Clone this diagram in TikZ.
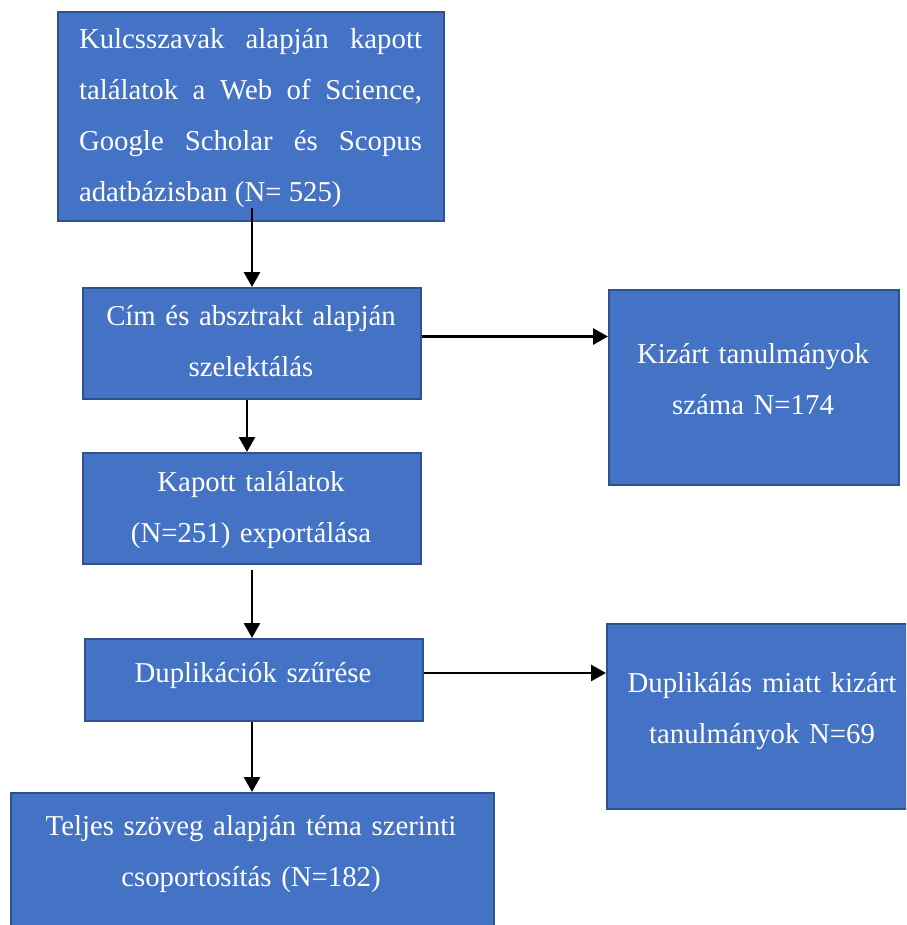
\documentclass[tikz,border=0pt]{standalone}
\usepackage{fontspec}
\setmainfont{Liberation Serif}
\usetikzlibrary{arrows.meta}
\definecolor{boxfill}{HTML}{4472C4}
\definecolor{boxedge}{HTML}{2F528F}
\tikzset{
  box/.style={draw=boxedge, line width=2pt, fill=boxfill, rectangle, inner sep=0pt, anchor=north west},
  txt/.style={text=white, inner sep=0pt, anchor=base, align=center,
    font=\fontsize{28.8}{51}\selectfont},
  arr/.style={draw=black, line width=2.8pt, -{Triangle[length=15pt,width=16pt]}},
}
\begin{document}
\begin{tikzpicture}[x=1pt,y=-1pt]
\useasboundingbox (0,0) rectangle (906,925);
\clip (0,0) rectangle (906,925);

% boxes
\node[box, minimum width=386pt, minimum height=209pt] (b1) at (57,11) {};
\node[box, minimum width=338pt, minimum height=111pt] (b2) at (82,287) {};
\node[box, minimum width=338pt, minimum height=111pt] (b3) at (82,452) {};
\node[box, minimum width=338pt, minimum height=82pt]  (b4) at (84,638) {};
\node[box, minimum width=483pt, minimum height=160pt] (b5) at (10,792) {};
\node[box, minimum width=290pt, minimum height=195pt] (r1) at (608,289) {};
\node[box, minimum width=312pt, minimum height=185pt] (r2) at (606,623) {};

% box texts
\node[txt, text width=343pt, align=justify] (t1) at (250.5,49)
  {Kulcsszavak alapján kapott\linebreak találatok a Web of Science,\linebreak Google Scholar és Scopus\linebreak adatbázisban (N= 525)};
\node[txt, text width=330pt] (t2) at (251,325) {Cím és absztrakt alapján\\szelektálás};
\node[txt, text width=330pt] (t3) at (251,491) {Kapott találatok\\(N=251) exportálása};
\node[txt, text width=330pt] (t4) at (253,682) {Duplikációk szűrése};
\node[txt, text width=470pt] (t5) at (251,835) {Teljes szöveg alapján téma szerinti\\csoportosítás (N=182)};
\node[txt, text width=285pt] (t6) at (753,363) {Kizárt tanulmányok\\száma N=174};
\node[txt, text width=300pt] (t7) at (762,692) {Duplikálás miatt kizárt\\tanulmányok N=69};

% connectors
\draw[arr] ([xshift=1pt,yshift=14pt]b1.south) -- ([xshift=1pt]b1.south |- b2.north);
\draw[arr] ([xshift=-5pt]b2.south) -- ([xshift=-5pt]b2.south |- b3.north);
\draw[arr] ([yshift=-5pt]b3.south) -- (b3.south |- b4.north);
\draw[arr] ([xshift=-2pt]b4.south) -- ([xshift=-2pt]b4.south |- b5.north);
\draw[arr] ([yshift=7pt]b2.east) -- ([yshift=7pt]b2.east -| r1.west);
\draw[arr] ([yshift=7pt]b4.east) -- ([yshift=7pt]b4.east -| r2.west);
\end{tikzpicture}
\end{document}
